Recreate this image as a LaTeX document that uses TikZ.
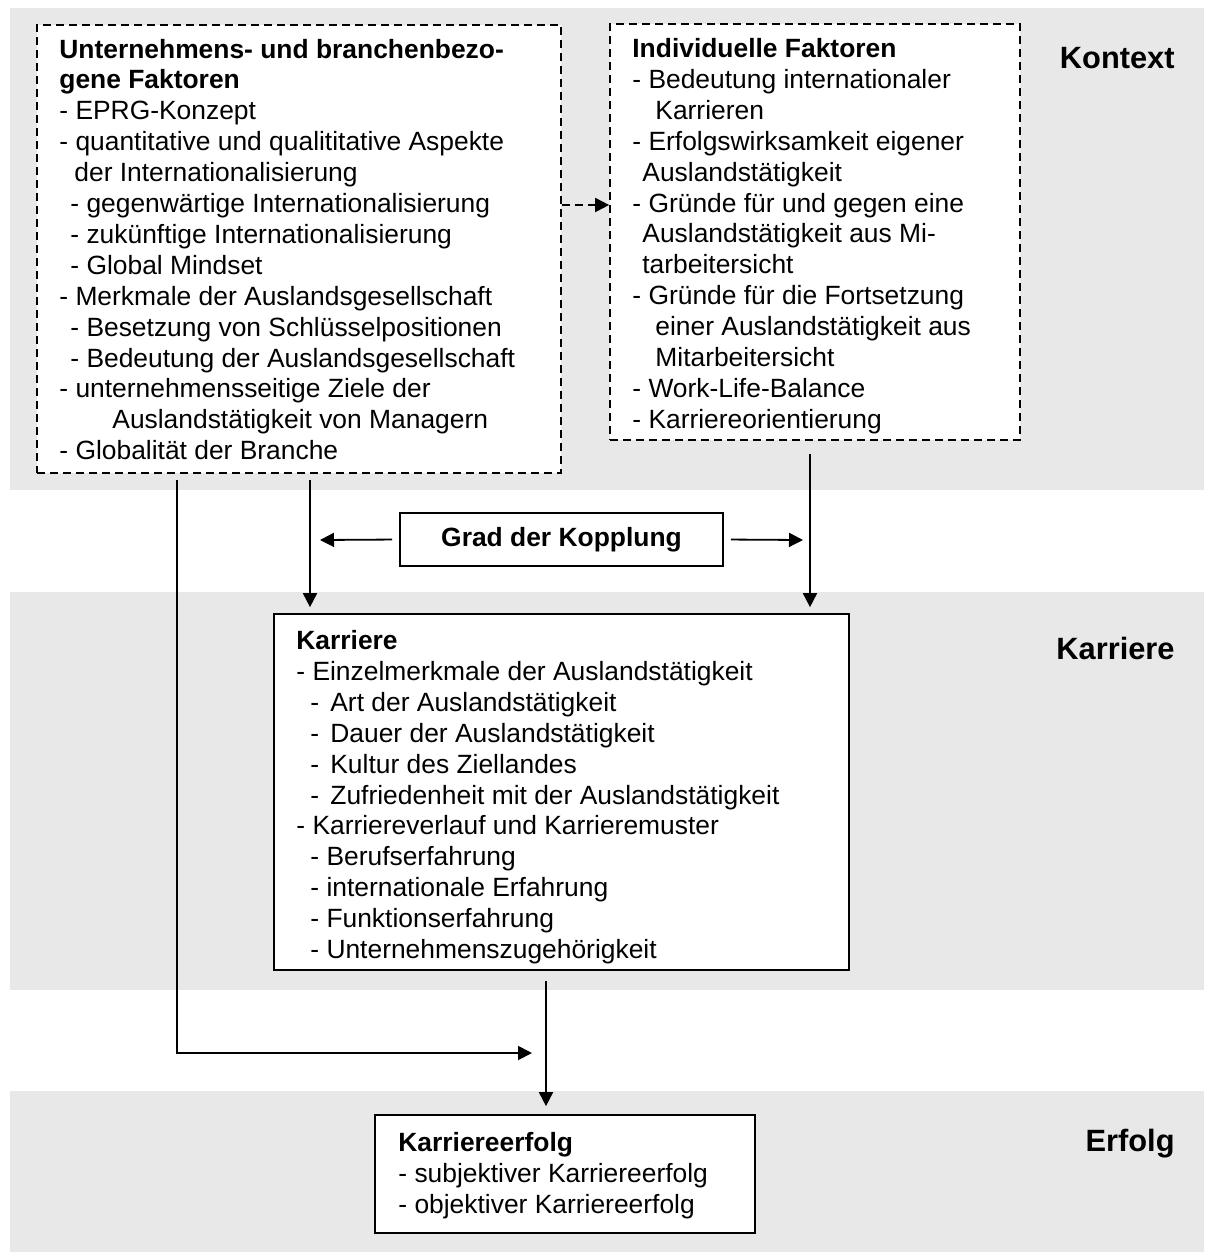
\documentclass[tikz,border=0pt]{standalone}
\usepackage{fontspec}
\setmainfont{Liberation Sans}
\usetikzlibrary{arrows.meta,positioning}
\definecolor{bandgray}{HTML}{E8E8E8}

\begin{document}
\begin{tikzpicture}[x=0.5pt,y=-0.5pt,
  dbox/.style={draw, line width=0.85pt, dash pattern=on 4pt off 2.5pt, fill=white,
               rectangle, inner sep=0pt},
  sbox/.style={draw, line width=0.85pt, fill=white, rectangle, inner sep=0pt},
  txt/.style={anchor=north west, inner sep=0pt, align=left,
              font=\fontsize{13.2}{15.45}\selectfont},
  lbl/.style={anchor=base east, inner sep=0pt, font=\fontsize{15.4}{18}\selectfont\bfseries},
  link/.style={line width=0.9pt, -{Triangle[length=7pt,width=7pt]}}]
\useasboundingbox (0,0) rectangle (1204,1252);
% bands
\fill[bandgray] (10,8) rectangle (1204,490);
\fill[bandgray] (10,592) rectangle (1204,990);
\fill[bandgray] (10,1091) rectangle (1204,1252);
% boxes
\node[dbox, minimum width=262pt, minimum height=224pt] (unt) at (299,249) {};
\node[dbox, minimum width=205pt, minimum height=208pt] (ind) at (815,232) {};
\node[sbox, minimum width=161.5pt, minimum height=26.5pt,
      font=\fontsize{13.2}{15.4}\selectfont\bfseries] (grad) at (561.5,539.5) {Grad der Kopplung};
\node[sbox, minimum width=287.5pt, minimum height=178pt] (kar) at (561.5,792) {};
\node[sbox, minimum width=190pt, minimum height=59pt] (erf) at (565,1174) {};
% texts
\node[txt] (untT) at (59,38.5) {\textbf{Unternehmens- und branchenbezo-}\\
  \textbf{gene Faktoren}\\
  - EPRG-Konzept\\
  - quantitative und qualititative Aspekte\\
  \hspace*{7.5pt}der Internationalisierung\\
  \hspace*{5.5pt}- gegenwärtige Internationalisierung\\
  \hspace*{5.5pt}- zukünftige Internationalisierung\\
  \hspace*{5.5pt}- Global Mindset\\
  - Merkmale der Auslandsgesellschaft\\
  \hspace*{5.5pt}- Besetzung von Schlüsselpositionen\\
  \hspace*{5.5pt}- Bedeutung der Auslandsgesellschaft\\
  - unternehmensseitige Ziele der\\
  \hspace*{26.5pt}Auslandstätigkeit von Managern\\
  - Globalität der Branche};
\node[txt] (indT) at (632,38) {\textbf{Individuelle Faktoren}\\
  - Bedeutung internationaler\\
  \hspace*{11.5pt}Karrieren\\
  - Erfolgswirksamkeit eigener\\
  \hspace*{5pt}Auslandstätigkeit\\
  - Gründe für und gegen eine\\
  \hspace*{5pt}Auslandstätigkeit aus Mi-\\
  \hspace*{5pt}tarbeitersicht\\
  - Gründe für die Fortsetzung\\
  \hspace*{11.5pt}einer Auslandstätigkeit aus\\
  \hspace*{11.5pt}Mitarbeitersicht\\
  - Work-Life-Balance\\
  - Karriereorientierung};
\node[txt] (karT) at (296,630) {\textbf{Karriere}\\
  - Einzelmerkmale der Auslandstätigkeit\\
  \hspace*{7pt}-\hspace{5.6pt}Art der Auslandstätigkeit\\
  \hspace*{7pt}-\hspace{5.6pt}Dauer der Auslandstätigkeit\\
  \hspace*{7pt}-\hspace{5.6pt}Kultur des Ziellandes\\
  \hspace*{7pt}-\hspace{5.6pt}Zufriedenheit mit der Auslandstätigkeit\\
  - Karriereverlauf und Karrieremuster\\
  \hspace*{7pt}- Berufserfahrung\\
  \hspace*{7pt}- internationale Erfahrung\\
  \hspace*{7pt}- Funktionserfahrung\\
  \hspace*{7pt}- Unternehmenszugehörigkeit};
\node[txt] (erfT) at (398,1132) {\textbf{Karriereerfolg}\\
  - subjektiver Karriereerfolg\\
  - objektiver Karriereerfolg};
% level labels
\node[lbl] (lkon) at (1175,69) {Kontext};
\node[lbl] (lkar) at (1175,659) {Karriere};
\node[lbl] (lerf) at (1175,1151) {Erfolg};
% connectors
\coordinate (cd) at (0,205);
\coordinate (cl) at (310,0);
\coordinate (cr) at (810,0);
\coordinate (cx) at (177,0);
\coordinate (cm) at (546,0);
\coordinate (gl) at (320,540);
\coordinate (gr) at (803,540);
\coordinate (ce) at (532,1053);
\draw[link, dash pattern=on 4pt off 2.5pt] (unt.east |- cd) -- (ind.west |- cd);
\draw[link, shorten <=3.5pt] (grad.west) -- (gl);
\draw[link, shorten <=3.5pt] (grad.east) -- (gr);
\draw[link, shorten <=3pt, shorten >=3pt] (unt.south -| cl) -- (kar.north -| cl);
\draw[link, shorten <=6.5pt, shorten >=3pt] (ind.south -| cr) -- (kar.north -| cr);
\draw[link, shorten <=3pt] (unt.south -| cx) |- (ce);
\draw[link, shorten <=5pt, shorten >=4pt] (kar.south -| cm) -- (erf.north -| cm);
\end{tikzpicture}
\end{document}
